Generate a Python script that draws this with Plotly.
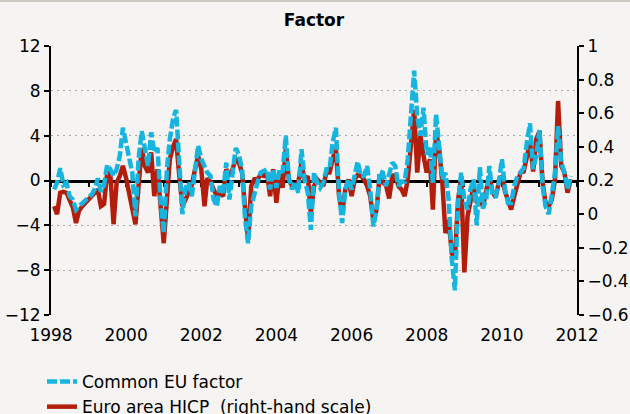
import pandas as pd
import plotly.graph_objects as go

# Monthly observations, Feb 1998 - Nov 2011
months = pd.date_range("1998-02-01", periods=166, freq="MS")

# Common EU factor (left-hand scale)
eu_factor = [
    -0.8, -0.2, 1.1, -0.4, -0.2, -1.4, -1.7, -2.6, -2.3, -2.0, -1.7, -1.5,
    -1.25, -0.8, 0.2, -1.0, -0.4, 1.4, 1.0, 0.4, 1.0, 2.2, 4.7, 3.4,
    2.3, 0.7, -3.2, 1.9, 4.4, 2.8, 1.3, 4.3, 2.5, 2.9, -1.7, -4.7,
    1.0, 3.7, 5.5, 6.3, 1.0, -3.0, -0.65, -0.2, -1.4, 1.0, 3.1, 1.9,
    1.3, 0.7, 0.4, -1.7, -2.3, -0.5, -1.1, 1.6, -1.7, 0.7, 2.9, 2.3,
    1.0, -3.2, -5.6, -2.3, -1.1, -0.2, 0.7, 0.8, 1.0, -0.8, 1.0, -0.65,
    1.0, 0.7, 4.0, 0.2, -0.8, -0.1, -1.1, 2.8, 0.1, -1.1, -4.4, 0.7,
    -0.2, -0.65, -0.2, 1.0, 1.0, 3.4, 4.7, -1.1, -3.8, -0.8, 0.1, -0.8,
    0.7, 1.7, 0.4, 0.4, 1.3, -0.8, -4.1, -2.6, 0.8, 0.7, -0.5, 0.4,
    1.6, 1.3, -0.5, -0.1, -0.1, 1.9, 5.4, 9.8, 5.7, 4.0, 6.5, 2.3,
    3.1, -0.2, 5.9, 3.4, 0.1, 0.7, -1.7, -7.0, -9.8, -2.0, 0.7, -1.7,
    -2.6, -0.8, 0.1, -4.0, 1.2, -2.5, -1.7, 1.3, -1.4, -1.4, -0.2, 1.9,
    -0.8, -2.0, -2.0, -0.5, 0.4, 0.7, 1.1, 3.4, 5.1, 1.0, 2.2, 4.5,
    -0.5, -2.3, -3.0, -1.25, 0.7, 4.85, 1.6, 0.7, -0.8, 0.4,
]

# Euro area HICP (right-hand scale)
hicp = [
    0.047, 0.000, 0.127, 0.133, 0.127, 0.080, 0.040, -0.053, 0.020, 0.047, 0.067, 0.087,
    0.107, 0.133, 0.147, 0.047, 0.060, 0.247, 0.233, -0.060, 0.187, 0.227, 0.287, 0.213,
    0.127, 0.027, -0.060, 0.167, 0.393, 0.287, 0.247, 0.367, 0.107, 0.267, 0.047, -0.173,
    0.087, 0.327, 0.400, 0.447, 0.227, 0.047, 0.087, 0.133, 0.173, 0.267, 0.347, 0.267,
    0.047, 0.213, 0.193, 0.147, 0.107, 0.127, 0.107, 0.267, 0.227, 0.267, 0.327, 0.307,
    0.247, 0.047, -0.153, 0.167, 0.207, 0.207, 0.233, 0.227, 0.247, 0.107, 0.267, 0.067,
    0.247, 0.157, 0.387, 0.207, 0.167, 0.173, 0.187, 0.307, 0.193, 0.227, 0.007, 0.167,
    0.207, 0.187, 0.167, 0.247, 0.247, 0.327, 0.393, 0.107, 0.007, 0.147, 0.207, 0.107,
    0.207, 0.233, 0.227, 0.207, 0.167, 0.107, -0.040, 0.027, 0.233, 0.187, 0.173, 0.093,
    0.227, 0.233, 0.167, 0.147, 0.107, 0.207, 0.407, 0.620, 0.247, 0.467, 0.347, 0.247,
    0.327, 0.027, 0.493, 0.387, 0.187, -0.113, -0.033, -0.233, -0.267, 0.087, 0.207, -0.347,
    -0.013, 0.087, 0.167, 0.067, 0.087, 0.047, 0.127, 0.227, 0.133, 0.100, 0.187, 0.227,
    0.133, 0.087, 0.027, 0.107, 0.187, 0.247, 0.253, 0.347, 0.427, 0.253, 0.447, 0.493,
    0.187, 0.067, 0.047, 0.087, 0.207, 0.673, 0.287, 0.247, 0.127, 0.207,
]

left_ticks = [12, 8, 4, 0, -4, -8, -12]
left_labels = ["12", "8", "4", "0", "\u22124", "\u22128", "\u221212"]
right_ticks = [1, 0.8, 0.6, 0.4, 0.2, 0, -0.2, -0.4, -0.6]
right_labels = ["1", "0.8", "0.6", "0.4", "0.2", "0", "\u22120.2", "\u22120.4", "\u22120.6"]
year_labels = ["1998", "2000", "2002", "2004", "2006", "2008", "2010", "2012"]

RED = "#b31e0c"
BLUE = "#16b5e0"
BG = "#f5f4f2"
FONT = "DejaVu Sans"

fig = go.Figure()
# HICP on the base (right-hand) axis, drawn first / underneath
fig.add_trace(go.Scatter(
    x=months, y=hicp, yaxis="y", mode="lines",
    name="Euro area HICP  (right-hand scale)",
    line=dict(color=RED, width=4.5), legendrank=2, hoverinfo="skip",
))
# Common EU factor on the overlaying (left-hand) axis, drawn on top
fig.add_trace(go.Scatter(
    x=months, y=eu_factor, yaxis="y2", mode="lines", name="Common EU factor",
    line=dict(color=BLUE, width=4.5, dash="10px,3px"), legendrank=1, hoverinfo="skip",
))
# invisible trace on the zero-line axis to activate it
fig.add_trace(go.Scatter(x=[months[0]], y=[0], xaxis="x2", yaxis="y2", mode="markers",
                         marker=dict(opacity=0), showlegend=False, hoverinfo="skip"))

fig.update_layout(
    width=630, height=414,
    paper_bgcolor=BG, plot_bgcolor=BG,
    margin=dict(l=51, r=53, t=46, b=99, autoexpand=False),
    font=dict(family=FONT, size=17, color="black"),
    title=dict(text="<b>Factor</b>", x=(51 + 577) / 2 / 630, xanchor="center",
               y=1 - 20 / 414, yanchor="middle", font=dict(size=17, family=FONT)),
    showlegend=True,
    legend=dict(xref="container", yref="container", x=42 / 630, y=(414 - 364) / 414,
                xanchor="left", yanchor="top", bgcolor="rgba(0,0,0,0)",
                font=dict(size=17, family=FONT), tracegroupgap=0,
                itemwidth=30),
    xaxis=dict(
        type="date", range=["1998-01-01", "2012-01-01"],
        tickvals=[f"{y}-01-01" for y in year_labels], ticktext=year_labels,
        showgrid=False, zeroline=False, showline=False, ticks="",
        tickfont=dict(size=17, family=FONT), tickangle=0, ticklabelstandoff=8,
    ),
    xaxis2=dict(
        type="date", range=["1998-01-01", "2012-01-01"], overlaying="x",
        anchor="free", position=0.5, showline=True, linecolor="black", linewidth=2.5,
        ticks="outside", ticklen=5, tickwidth=2, tickcolor="black",
        dtick="M12", tick0="1998-01-01", showticklabels=False, showgrid=False,
        zeroline=False, layer="below traces",
    ),
    yaxis=dict(
        range=[-0.6, 1], side="right",
        tickvals=right_ticks, ticktext=right_labels,
        showline=True, linecolor="black", linewidth=2, ticks="outside",
        ticklen=5, tickwidth=2, tickcolor="black", showgrid=False, zeroline=False,
        tickfont=dict(size=17, family=FONT),
    ),
    yaxis2=dict(
        range=[-12, 12], overlaying="y", side="left", anchor="x",
        tickvals=left_ticks, ticktext=left_labels,
        showline=True, linecolor="black", linewidth=2, ticks="outside",
        ticklen=5, tickwidth=2, tickcolor="black",
        showgrid=True, gridcolor="#a8a8a8", gridwidth=1, griddash="2px,4px",
        zeroline=False, tickfont=dict(size=17, family=FONT),
    ),
    shapes=[dict(type="line", xref="paper", yref="paper", x0=-51 / 526, x1=(526 + 53) / 526,
                 y0=1 + 45.5 / 269, y1=1 + 45.5 / 269, line=dict(color="#cdc8c1", width=3))],
)

fig.write_html("out.html", config={"displayModeBar": False},
               post_script="document.body.style.margin='0px';")
